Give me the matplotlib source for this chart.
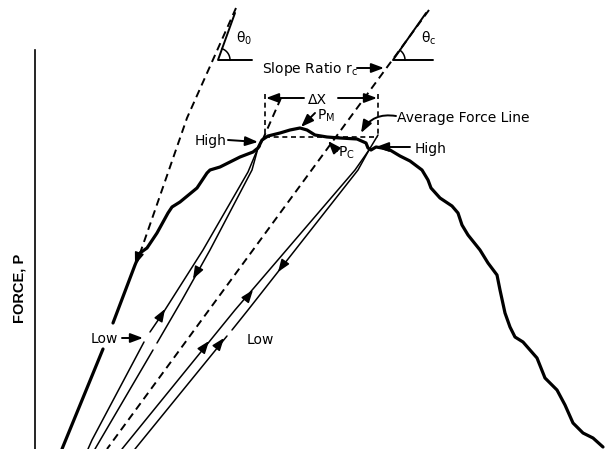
import matplotlib
matplotlib.use("Agg")
import matplotlib.pyplot as plt
import numpy as np

# ---- geometry of the force-displacement sketch (pixel space, y grows downward) ----
axis_x = 35
axis_y = [50, 449]

# initial straight loading segment (thick), split around the "Low" label
load_lower = [(62, 449), (103, 349)]
# main force curve: loading, peak region and softening branch
force_curve = [
    (113, 323), (135, 265), (140, 253), (147, 248), (157, 233), (168, 213),
    (172, 207), (180, 202), (197, 188), (207, 173), (210, 170), (220, 167),
    (230, 162), (240, 157), (253, 152), (258, 148), (262, 140), (268, 136),
    (280, 133), (290, 130), (300, 128), (307, 130), (315, 135), (327, 137),
    (340, 138), (357, 139), (366, 143), (368, 148), (371, 150), (376, 147),
    (382, 148), (390, 150), (400, 156), (410, 161), (422, 170), (428, 180),
    (431, 188), (440, 198), (452, 206), (458, 213), (462, 225), (468, 235),
    (480, 250), (488, 263), (497, 275), (500, 290), (505, 313), (510, 327),
    (515, 337), (523, 342), (537, 358), (545, 378), (557, 390), (565, 405),
    (573, 423), (583, 433), (593, 438), (603, 447),
]

# tangent to the initial slope (theta_0) and secant for theta_c
tangent_0 = [(236, 8), (187, 118), (137, 262)]
tangent_c = [(429, 10), (107, 449)]
high_dash = [(281, 98), (259, 148)]

# unloading / reloading loops
loop1_left_a = [(258, 148), (248, 172), (203, 250), (163, 313), (150, 332)]
loop1_left_b = [(144, 342), (92, 440), (88, 449)]
loop1_right_a = [(258, 148), (252, 170), (210, 250), (182, 300), (157, 343)]
loop1_right_b = [(153, 350), (95, 449)]
loop1_stub = [(258, 148), (265, 136)]

loop2_left = [(369, 150), (355, 170), (235, 310), (122, 449)]
loop2_right_a = [(369, 150), (358, 170), (248, 310), (232, 330)]
loop2_right_b = [(227, 336), (135, 449)]
loop2_stub = [(369, 150), (378, 135)]

# average-force box and delta-X dimension
box_left, box_right = 265, 378
box_top, avg_force_y = 94, 137
dim_y = 98

# angle markers: vertex, solid leg end, horizontal leg end
angle0 = dict(vertex=(218, 60), leg=(235, 13), base=(252, 60))
anglec = dict(vertex=(393, 60), leg=(426, 13), base=(433, 60))

# arrowheads sitting on the lines: (tail, tip)
line_arrows = [
    ((139, 254), (135, 265)),
    ((199, 268), (193, 279)),
    ((159, 319), (165, 309)),
    ((285, 262), (278, 272)),
    ((246, 299), (253, 290)),
    ((202, 350), (209, 341)),
    ((217, 347), (224, 338)),
]

# label arrows: (tail, tip)
label_arrows = [
    ((357, 68), (384, 68)),     # slope ratio
    ((304, dim_y), (266, dim_y)),  # delta X left
    ((338, dim_y), (377, dim_y)),  # delta X right
    ((315, 113), (301, 127)),   # P_M
    ((337, 151), (328, 141)),   # P_C
    ((410, 147), (376, 147)),   # High (right)
    ((228, 140), (258, 142)),   # High (left)
    ((122, 338), (143, 338)),   # Low (left)
]

labels = [
    ("Slope Ratio r$_\\mathrm{c}$", 262, 73),
    ("θ$_\\mathrm{0}$", 236, 43),
    ("θ$_\\mathrm{c}$", 421, 43),
    ("ΔX", 308, 104),
    ("P$_\\mathrm{M}$", 317, 120),
    ("P$_\\mathrm{C}$", 338, 157),
    ("Average Force Line", 397, 122),
    ("High", 415, 153),
    ("High", 195, 145),
    ("Low", 91, 343),
    ("Low", 247, 344),
]

plt.rcParams["font.family"] = ["DejaVu Sans"]
plt.rcParams["mathtext.fontset"] = "dejavusans"

fig = plt.figure(figsize=(6.05, 4.49), dpi=100)
ax = fig.add_axes([0, 0, 1, 1])
ax.set_xlim(0, 605)
ax.set_ylim(449, 0)
ax.axis("off")

K = "black"
THICK, THIN, DASH = 2.3, 1.1, 1.4


def poly(pts, **kw):
    a = np.asarray(pts, dtype=float)
    ax.plot(a[:, 0], a[:, 1], color=K, solid_capstyle="round",
            solid_joinstyle="round", **kw)


# y axis
ax.plot([axis_x, axis_x], axis_y, color=K, lw=1.2)
ax.text(19, 288, "FORCE, P", rotation=90, ha="center", va="center",
        fontsize=10.5, fontweight="bold", family="Liberation Sans")

# force curve
poly(load_lower, lw=THICK)
poly(force_curve, lw=THICK)

# dashed construction lines
for pts in (tangent_0, tangent_c, high_dash):
    poly(pts, lw=DASH, ls=(0, (4, 2.6)))

# loops
for pts in (loop1_left_a, loop1_left_b, loop1_right_a, loop1_right_b,
            loop1_stub, loop2_left, loop2_right_a, loop2_right_b, loop2_stub):
    poly(pts, lw=THIN)

# average force box
dash_box = dict(lw=1.2, ls=(0, (3, 2.2)))
poly([(box_left, box_top), (box_left, avg_force_y)], **dash_box)
poly([(box_right, box_top), (box_right, avg_force_y)], **dash_box)
poly([(box_left, avg_force_y), (box_right, avg_force_y)], **dash_box)

# angle markers
for ang in (angle0, anglec):
    vx, vy = ang["vertex"]
    lx, ly = ang["leg"]
    bx, by = ang["base"]
    poly([(lx, ly), (vx, vy), (bx, by)], lw=1.4)
    t_end = np.arctan2(vy - ly, lx - vx)
    t = np.linspace(0, t_end, 30)
    r = 12
    ax.plot(vx + r * np.cos(t), vy - r * np.sin(t), color=K, lw=1.1)

head = "-|>,head_length=0.75,head_width=0.28"
for (tx, ty), (hx, hy) in line_arrows:
    ax.annotate("", xy=(hx, hy), xytext=(tx, ty),
                arrowprops=dict(arrowstyle=head, color=K, lw=THIN,
                                mutation_scale=10, shrinkA=0, shrinkB=0))
for (tx, ty), (hx, hy) in label_arrows:
    ax.annotate("", xy=(hx, hy), xytext=(tx, ty),
                arrowprops=dict(arrowstyle=head, color=K, lw=1.4,
                                mutation_scale=10, shrinkA=0, shrinkB=0))
# curved pointer to the average force line
ax.annotate("", xy=(361, 133), xytext=(396, 116),
            arrowprops=dict(arrowstyle=head, color=K, lw=1.4, mutation_scale=10,
                            shrinkA=0, shrinkB=0,
                            connectionstyle="arc3,rad=0.35"))

for s, x, y in labels:
    ax.text(x, y, s, ha="left", va="baseline", fontsize=10, color=K)

fig.savefig("out.png", dpi=100, facecolor="white")
